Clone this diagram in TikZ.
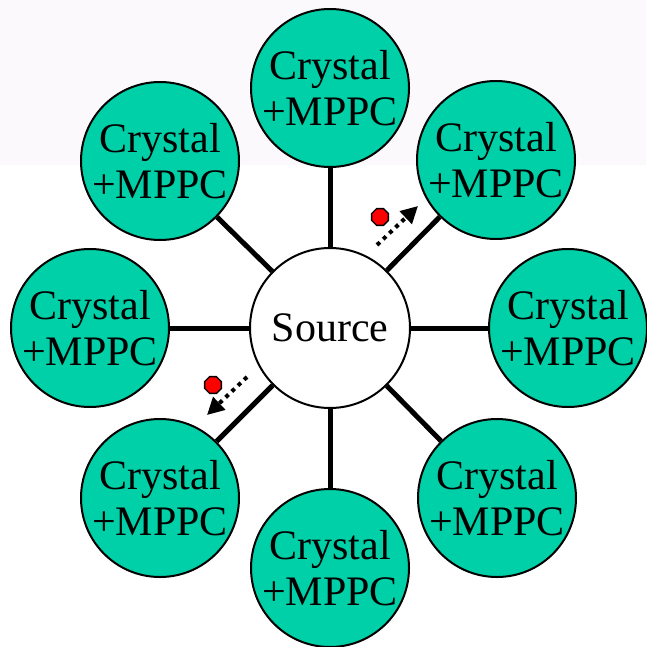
\documentclass[tikz,border=0pt]{standalone}
\usepackage{fontspec}
\setmainfont{Liberation Serif}
\usetikzlibrary{arrows.meta,shapes.geometric}
\definecolor{teal1}{RGB}{0,208,168}
\definecolor{bgtop}{RGB}{251,249,252}
\begin{document}
\begin{tikzpicture}[x=1pt,y=-1pt,
  crys/.style={circle,draw=black,line width=2pt,fill=teal1,minimum size=158pt,inner sep=0pt,
    align=center,font=\fontsize{42}{46}\selectfont},
  srcnode/.style={circle,draw=black,line width=2pt,fill=white,minimum size=160pt,inner sep=0pt,
    font=\fontsize{42}{46}\selectfont},
  spoke/.style={line width=5pt},
  flight/.style={line width=4pt,dash pattern=on 4pt off 4.5pt,-{Triangle[length=17pt,width=17pt]}},
  gamma/.style={regular polygon,regular polygon sides=8,draw=black,line width=1.4pt,fill=red,minimum size=18pt,inner sep=0pt}]
\useasboundingbox (0,0) rectangle (646,647);
\fill[bgtop] (0,0) rectangle (646,165);
\node[srcnode] (src) at (330,328) {Source};
\node[crys] (n) at (330,88) {Crystal\\+MPPC};
\node[crys] (ne) at (496,160) {Crystal\\+MPPC};
\node[crys] (e) at (568,328) {Crystal\\+MPPC};
\node[crys] (se) at (497,498) {Crystal\\+MPPC};
\node[crys] (s) at (330,568) {Crystal\\+MPPC};
\node[crys] (sw) at (160,498) {Crystal\\+MPPC};
\node[crys] (w) at (90,328) {Crystal\\+MPPC};
\node[crys] (nw) at (160,161) {Crystal\\+MPPC};
\foreach \t in {n,ne,e,se,s,sw,w,nw} \draw[spoke] (src) -- (\t);
\coordinate (a1s) at (377,245);
\coordinate (a1e) at (418,206);
\coordinate (a2s) at (247,377);
\coordinate (a2e) at (207,415);
\draw[flight] (a1s) -- (a1e);
\draw[flight] (a2s) -- (a2e);
\node[gamma] (g1) at (380,217) {};
\node[gamma] (g2) at (213,385) {};
\end{tikzpicture}
\end{document}
